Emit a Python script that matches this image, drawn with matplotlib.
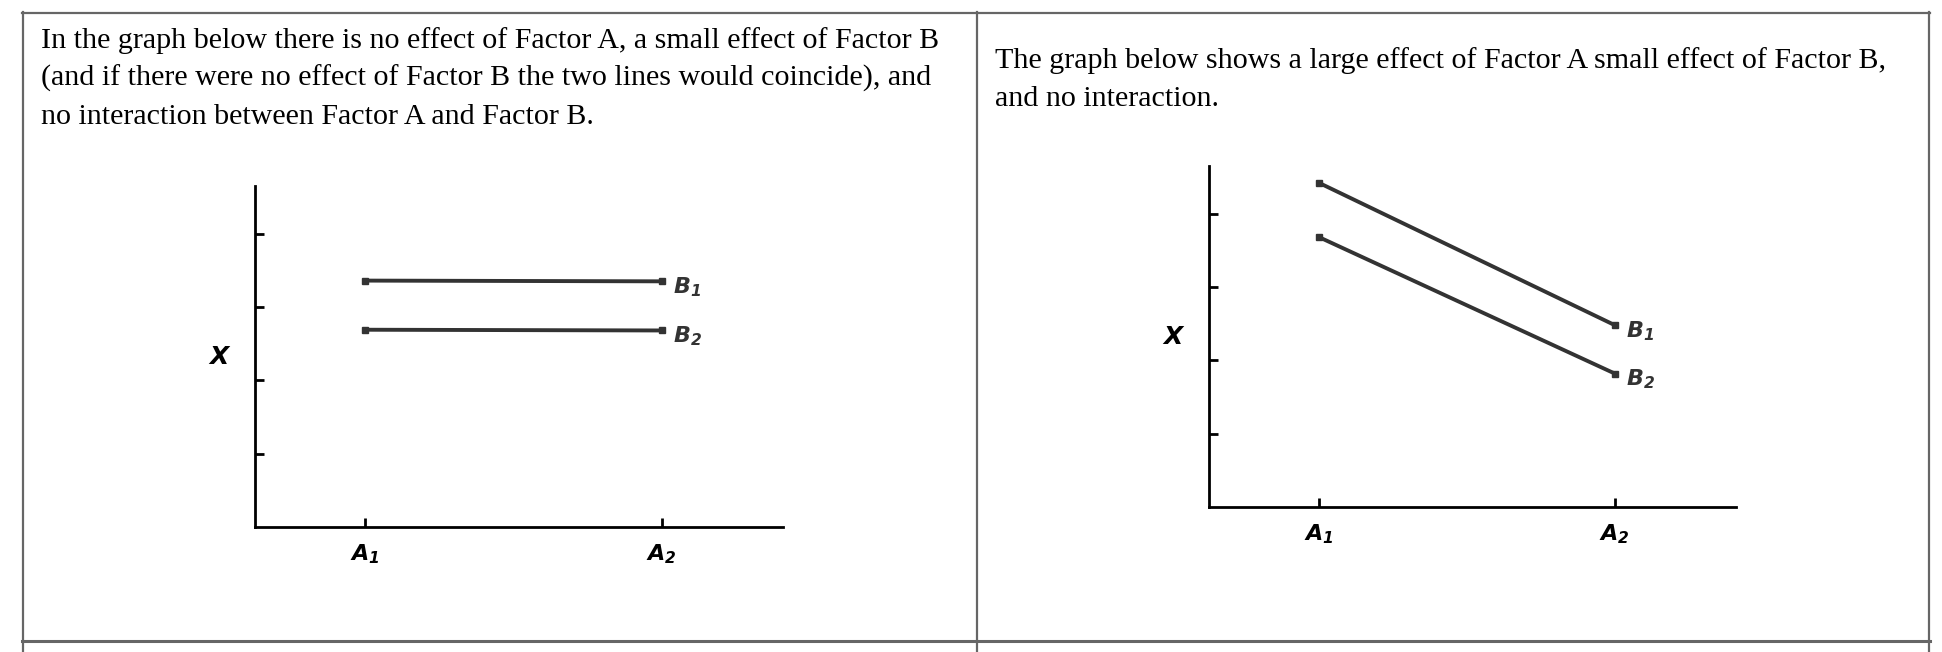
import numpy as np
import matplotlib
matplotlib.use('Agg')
import matplotlib.pyplot as plt
from matplotlib.lines import Line2D

# data
a_levels = [1, 2]
a_labels = [r'$\mathbf{A}_{\mathbf{1}}$', r'$\mathbf{A}_{\mathbf{2}}$']
b_names = [r'$\mathbf{B}_{\mathbf{1}}$', r'$\mathbf{B}_{\mathbf{2}}$']
left_b1 = [3.36, 3.35]
left_b2 = [2.69, 2.68]
right_b1 = [4.42, 2.48]
right_b2 = [3.68, 1.82]
y_ticks = [1, 2, 3, 4]

left_text = ["In the graph below there is no effect of Factor A, a small effect of Factor B",
             "(and if there were no effect of Factor B the two lines would coincide), and",
             "no interaction between Factor A and Factor B."]
right_text = ["The graph below shows a large effect of Factor A small effect of Factor B,",
              "and no interaction."]

W, H = 1942, 652
plt.rcParams['mathtext.fontset'] = 'custom'
plt.rcParams['mathtext.bf'] = 'DejaVu Sans:bold:italic'
plt.rcParams['mathtext.rm'] = 'DejaVu Sans:bold:italic'

fig = plt.figure(figsize=(W / 100, H / 100), dpi=100)
fig.patch.set_facecolor('white')

def px(x, y):
    return x / W, 1 - y / H

# table borders
border = '#666666'
def hline(y, x0, x1, lw=1.6):
    fig.add_artist(Line2D([x0 / W, x1 / W], [1 - y / H, 1 - y / H], color=border, lw=lw))

def vline(x, y0, y1, lw=1.6):
    fig.add_artist(Line2D([x / W, x / W], [1 - y0 / H, 1 - y1 / H], color=border, lw=lw))

hline(13, 22, 1930)
hline(641, 22, 1930, lw=2.2)
vline(23, 12, 652)
vline(977, 12, 652)
vline(1929, 12, 652)

# cell texts
serif = ['Liberation Serif', 'DejaVu Serif']
for i, s in enumerate(left_text):
    x, y = px(41, 48 + 38 * i)
    fig.text(x, y, s, fontsize=21.6, family=serif, va='baseline', ha='left')
for i, s in enumerate(right_text):
    x, y = px(995, 68 + 38 * i)
    fig.text(x, y, s, fontsize=21.6, family=serif, va='baseline', ha='left')


def draw_panel(rect, b1, b2):
    ax = fig.add_axes(rect)
    line_color = '#333333'
    ax.plot(a_levels, b1, color=line_color, lw=2.8, marker='s', markersize=4.5)
    ax.plot(a_levels, b2, color=line_color, lw=2.8, marker='s', markersize=4.5)
    ax.set_xlim(0.628, 2.41)
    ax.set_ylim(0, 4.65)
    for s in ['top', 'right']:
        ax.spines[s].set_visible(False)
    for s in ['left', 'bottom']:
        ax.spines[s].set_linewidth(2)
        ax.spines[s].set_color('black')
    ax.set_yticks(y_ticks)
    ax.set_yticklabels([])
    ax.set_xticks(a_levels)
    ax.set_xticklabels(a_labels, fontsize=16)
    ax.tick_params(direction='in', length=6.5, width=2, color='black')
    ax.tick_params(axis='x', pad=11)
    ax.set_ylabel(r'$\mathbf{X}$', fontsize=18, rotation=0, labelpad=22, va='center')
    for vals, name in zip([b1, b2], b_names):
        ax.annotate(name, (a_levels[1], vals[1]), xytext=(11, -6),
                    textcoords='offset pixels', fontsize=16, va='center', ha='left',
                    color='#333333')
    return ax

draw_panel([255 / W, 1 - 527 / H, 528 / W, 341 / H], left_b1, left_b2)
draw_panel([1209 / W, 1 - 507 / H, 527 / W, 341 / H], right_b1, right_b2)

plt.savefig('out.png', dpi=100, facecolor='white')
